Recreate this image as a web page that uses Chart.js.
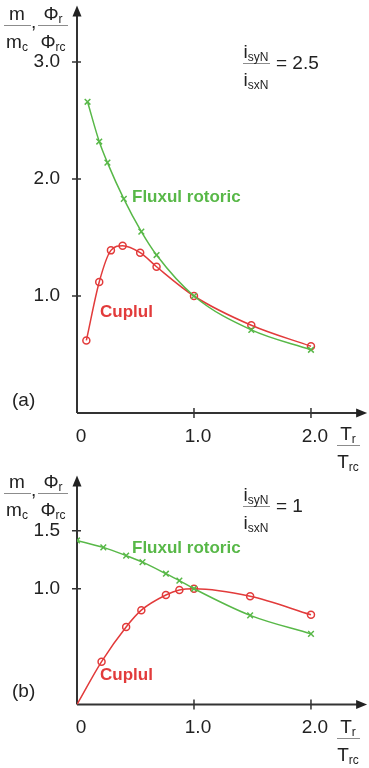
<!DOCTYPE html>
<html>
<head>
<meta charset="utf-8">
<script src="https://cdn.jsdelivr.net/npm/chart.js@4.4.1/dist/chart.umd.min.js"></script>
<style>
  body { margin: 0; background: #fff; }
  #wrap { position: relative; width: 369px; height: 768px; overflow: hidden; font-family: "Liberation Sans", Arial, sans-serif; color: #222; }
  canvas { position: absolute; left: 0; }
  .t { position: absolute; white-space: nowrap; line-height: 1; }
  .s { font-size: 12px; position: relative; top: 3px; }
  .ln { position: absolute; height: 1px; background: #8c8c8c; }
</style>
</head>
<body>
<div id="wrap">
  <canvas id="chartA" width="369" height="470" style="top:0"></canvas>
  <canvas id="chartB" width="369" height="298" style="top:470px"></canvas>
</div>
<script>
// (a)  isyN / isxN = 2.5
const fluxA_x = [0.09, 0.19, 0.26, 0.40, 0.55, 0.68, 1.0, 1.49, 2.0];
const fluxA_y = [2.66, 2.32, 2.14, 1.83, 1.55, 1.35, 1.0, 0.71, 0.54];
const cuplA_x = [0.08, 0.19, 0.29, 0.39, 0.54, 0.68, 1.0, 1.49, 2.0];
const cuplA_y = [0.62, 1.12, 1.39, 1.43, 1.37, 1.25, 1.0, 0.75, 0.57];

// (b)  isyN / isxN = 1
const fluxB_x = [0, 0.225, 0.42, 0.56, 0.76, 0.875, 1.0, 1.48, 2.0];
const fluxB_y = [1.417, 1.357, 1.286, 1.23, 1.13, 1.07, 1.0, 0.77, 0.61];
const cuplB_x = [0, 0.21, 0.42, 0.55, 0.76, 0.875, 1.0, 1.48, 2.0];
const cuplB_y = [0, 0.37, 0.67, 0.815, 0.946, 0.989, 1.0, 0.935, 0.775];

// tick values
const xTicks = [0, 1, 2];
const yTicksA = [1, 2, 3];
const yTicksB = [1, 1.5];
const xAxisEnd = 2.48; // where the x arrow tip sits

const GREEN = '#58b848';
const RED = '#e23b3b';

const pts = (xs, ys) => xs.map((x, i) => ({ x: x, y: ys[i] }));

// scales keep their exact size, no extra label padding
function fixScale(s, w, h) {
    if (w !== null) s.width = w;
    if (h !== null) s.height = h;
    s.paddingTop = 0;
    s.paddingBottom = 0;
    s.paddingLeft = 0;
    s.paddingRight = 0;
}

// axes with arrow heads, ticks crossing the axis
const axesArrows = {
    id: 'axesArrows',
    beforeDatasetsDraw(chart) {
        const { ctx, scales: { x, y } } = chart;
        const x0 = x.getPixelForValue(0);
        const y0 = y.getPixelForValue(0);
        const xEnd = x.getPixelForValue(xAxisEnd);
        const yTop = y.top;
        ctx.save();
        ctx.strokeStyle = '#333';
        ctx.fillStyle = '#222';
        ctx.lineWidth = 2;
        ctx.beginPath();
        ctx.moveTo(x0, y0);
        ctx.lineTo(xEnd - 8, y0);
        ctx.moveTo(x0, y0);
        ctx.lineTo(x0, yTop + 8);
        ctx.stroke();

        ctx.lineWidth = 1.5;
        ctx.beginPath();
        x.ticks.forEach(t => {
            if (t.value > 0) {
                const p = x.getPixelForValue(t.value);
                ctx.moveTo(p, y0 - 5);
                ctx.lineTo(p, y0 + 5);
            }
        });
        y.ticks.forEach(t => {
            const p = y.getPixelForValue(t.value);
            ctx.moveTo(x0 - 5, p);
            ctx.lineTo(x0 + 4, p);
        });
        ctx.stroke();

        ctx.beginPath();
        ctx.moveTo(xEnd, y0);
        ctx.lineTo(xEnd - 11, y0 - 4.5);
        ctx.lineTo(xEnd - 11, y0 + 4.5);
        ctx.closePath();
        ctx.fill();
        ctx.beginPath();
        ctx.moveTo(x0, yTop);
        ctx.lineTo(x0 - 4.5, yTop + 11);
        ctx.lineTo(x0 + 4.5, yTop + 11);
        ctx.closePath();
        ctx.fill();
        ctx.restore();
    }
};

function makeChart(id, flux, cupl, cuplRadius, yTicks, yMax, xHeight, padTop) {
    const tickFont = { family: '"Liberation Sans", Arial, sans-serif', size: 19 };
    return new Chart(document.getElementById(id), {
        type: 'line',
        data: {
            datasets: [
                {
                    label: 'Fluxul rotoric',
                    data: flux,
                    borderColor: GREEN,
                    borderWidth: 1.5,
                    pointStyle: 'crossRot',
                    pointRadius: 4,
                    pointBorderWidth: 1.5,
                    pointBorderColor: GREEN,
                    cubicInterpolationMode: 'monotone',
                    fill: false
                },
                {
                    label: 'Cuplul',
                    data: cupl,
                    borderColor: RED,
                    borderWidth: 1.5,
                    pointStyle: 'circle',
                    pointRadius: cuplRadius,
                    pointBorderWidth: 1.5,
                    pointBorderColor: RED,
                    pointBackgroundColor: 'rgba(0,0,0,0)',
                    cubicInterpolationMode: 'monotone',
                    fill: false
                }
            ]
        },
        options: {
            responsive: false,
            animation: false,
            layout: { padding: { left: 0, right: 0, top: padTop, bottom: 0 } },
            plugins: { legend: { display: false }, tooltip: { enabled: false } },
            scales: {
                x: {
                    type: 'linear',
                    min: 0,
                    max: 2.449,
                    afterBuildTicks: s => { s.ticks = xTicks.map(v => ({ value: v })); },
                    afterFit: s => fixScale(s, null, xHeight),
                    grid: { display: false, drawTicks: false },
                    border: { display: false },
                    ticks: {
                        padding: 12,
                        labelOffset: 4,
                        color: '#222',
                        font: tickFont,
                        callback: v => v === 0 ? '0' : v.toFixed(1)
                    }
                },
                y: {
                    type: 'linear',
                    min: 0,
                    max: yMax,
                    afterBuildTicks: s => { s.ticks = yTicks.map(v => ({ value: v })); },
                    afterFit: s => fixScale(s, 77, null),
                    grid: { display: false, drawTicks: false },
                    border: { display: false },
                    ticks: {
                        padding: 17,
                        color: '#222',
                        font: tickFont,
                        callback: v => v.toFixed(1)
                    }
                }
            }
        },
        plugins: [axesArrows]
    });
}

makeChart('chartA', pts(fluxA_x, fluxA_y), pts(cuplA_x, cuplA_y), 3.5, yTicksA, 3.483, 57, 5);
makeChart('chartB', pts(fluxB_x, fluxB_y), pts(cuplB_x, cuplB_y), cuplB_x.map(v => v === 0 ? 0 : 3.5), yTicksB, 1.978, 63.5, 3);

// text overlays
const wrap = document.getElementById('wrap');
const sub = s => '<span class="s">' + s + '</span>';

function txt(html, x, base, size, opts = {}) {
    const d = document.createElement('div');
    d.className = 't';
    d.innerHTML = html;
    d.style.fontSize = size + 'px';
    d.style.top = (base - 0.85 * size) + 'px';
    d.style.left = x + 'px';
    if (opts.center) d.style.transform = 'translateX(-50%)';
    if (opts.bold) d.style.fontWeight = 'bold';
    if (opts.color) d.style.color = opts.color;
    wrap.appendChild(d);
}

function frac(cx, lineY, w, num, den) {
    const l = document.createElement('div');
    l.className = 'ln';
    l.style.left = (cx - w / 2) + 'px';
    l.style.top = lineY + 'px';
    l.style.width = w + 'px';
    wrap.appendChild(l);
    txt(num, cx, lineY - 5, 19, { center: true });
    txt(den, cx, lineY + 23, 19, { center: true });
}

function labels(dy, ratioY, ratioText, fluxBase, cuplBase, tagBase, xTitleY) {
    // y axis title
    frac(17, 25 + dy, 27, 'm', 'm' + sub('c'));
    txt(',', 31, 28 + dy, 19);
    frac(53, 25 + dy, 30, '&Phi;' + sub('r'), '&Phi;' + sub('rc'));
    // current ratio
    frac(256, ratioY, 27, 'i' + sub('syN'), 'i' + sub('sxN'));
    txt(ratioText, 276, ratioY + 6.5, 19);
    // curve names
    txt('Fluxul rotoric', 132, fluxBase, 17, { bold: true, color: GREEN });
    txt('Cuplul', 100, cuplBase, 17, { bold: true, color: RED });
    // x axis title
    frac(348, xTitleY, 23, 'T' + sub('r'), 'T' + sub('rc'));
    txt(tagBase[0], 12, tagBase[1], 19);
}

labels(0, 62.7, '= 2.5', 202, 317, ['(a)', 406], 445);
labels(467.7, 506, '= 1', 553, 680, ['(b)', 697], 737.7);
</script>
</body>
</html>
